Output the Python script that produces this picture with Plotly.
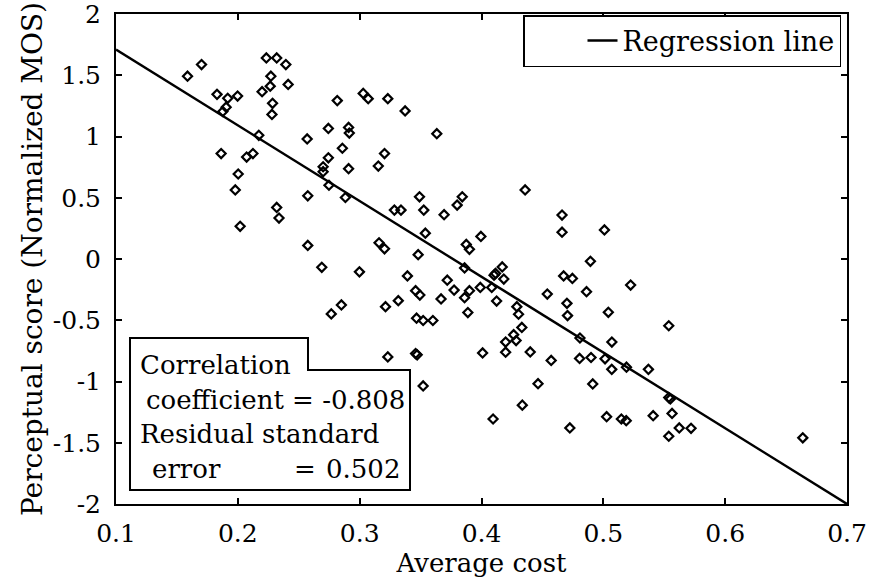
import plotly.graph_objects as go

# ---- data ----
avg_cost = [
    0.1587, 0.1702, 0.1829, 0.1917, 0.1998, 0.1904, 0.1877, 0.2234, 0.2319, 0.2394,
    0.2271, 0.2266, 0.2199, 0.2413, 0.2285, 0.2280, 0.2172, 0.1863, 0.2072, 0.2124,
    0.2003, 0.2816, 0.2743, 0.2909, 0.2915, 0.2569, 0.2858, 0.2743, 0.2700, 0.2700,
    0.2909, 0.3029, 0.3070, 0.3231, 0.3373, 0.3633, 0.3204, 0.3153, 0.1979, 0.2319,
    0.2338, 0.2019, 0.2574, 0.2748, 0.2883, 0.2574, 0.2689, 0.2850, 0.2767, 0.4358,
    0.3491, 0.3842, 0.3800, 0.3285, 0.3339, 0.3526, 0.3693, 0.3539, 0.3159, 0.3204,
    0.3480, 0.3995, 0.3875, 0.3901, 0.2998, 0.3861, 0.4170, 0.4103, 0.4115, 0.4183,
    0.3392, 0.3719, 0.3990, 0.4084, 0.3775, 0.3901, 0.3861, 0.3459, 0.3494, 0.3668,
    0.4124, 0.3317, 0.3212, 0.3888, 0.4290, 0.4304, 0.3467, 0.3521, 0.3601, 0.4331,
    0.4264, 0.4661, 0.4661, 0.5009, 0.4894, 0.4674, 0.4746, 0.4540, 0.4862, 0.5224,
    0.4701, 0.4706, 0.5041, 0.5537, 0.4808, 0.4198, 0.4284, 0.4198, 0.4400, 0.4572,
    0.4009, 0.3231, 0.3459, 0.3472, 0.3521, 0.4464, 0.4335, 0.4095, 0.5070, 0.4805,
    0.4899, 0.5014, 0.5069, 0.5190, 0.5370, 0.4913, 0.5537, 0.5550, 0.5027, 0.5148,
    0.5188, 0.5409, 0.5564, 0.4725, 0.5623, 0.5720, 0.5537, 0.6637,
]
perceptual_score = [
    1.492, 1.587, 1.344, 1.312, 1.330, 1.239, 1.204, 1.641, 1.641, 1.587,
    1.492, 1.411, 1.366, 1.425, 1.271, 1.180, 1.010, 0.861, 0.832, 0.861,
    0.694, 1.293, 1.066, 1.074, 1.028, 0.980, 0.904, 0.826, 0.753, 0.713,
    0.737, 1.352, 1.309, 1.309, 1.209, 1.023, 0.861, 0.759, 0.564, 0.421,
    0.334, 0.267, 0.516, 0.602, 0.502, 0.111, -0.068, -0.375, -0.448, 0.564,
    0.508, 0.508, 0.440, 0.399, 0.399, 0.399, 0.362, 0.211, 0.132, 0.083,
    0.035, 0.184, 0.119, 0.079, -0.105, -0.073, -0.065, -0.132, -0.118, -0.164,
    -0.138, -0.173, -0.232, -0.232, -0.254, -0.259, -0.316, -0.259, -0.294, -0.326,
    -0.343, -0.340, -0.389, -0.437, -0.389, -0.451, -0.483, -0.502, -0.502, -0.559,
    -0.618, 0.359, 0.219, 0.237, -0.019, -0.138, -0.159, -0.286, -0.267, -0.213,
    -0.362, -0.462, -0.435, -0.545, -0.645, -0.678, -0.666, -0.761, -0.759, -0.828,
    -0.767, -0.799, -0.772, -0.782, -1.036, -1.018, -1.193, -1.306, -0.678, -0.812,
    -0.804, -0.815, -0.901, -0.883, -0.901, -1.020, -1.131, -1.142, -1.287, -1.306,
    -1.320, -1.279, -1.261, -1.379, -1.379, -1.382, -1.447, -1.460,
]
regression_x = [0.10, 0.70]
regression_y = [1.71, -2.0]

x_tick_vals = [0.1, 0.2, 0.3, 0.4, 0.5, 0.6, 0.7]
x_tick_text = ["0.1", "0.2", "0.3", "0.4", "0.5", "0.6", "0.7"]
y_tick_vals = [2, 1.5, 1, 0.5, 0, -0.5, -1, -1.5, -2]
y_tick_text = ["2", "1.5", "1", "0.5", "0", "-0.5", "-1", "-1.5", "-2"]

correlation_coefficient = "-0.808"
residual_std_error = "0.502"

FONT = "DejaVu Serif"
FS = 26

fig = go.Figure()
fig.add_trace(go.Scatter(
    x=avg_cost, y=perceptual_score, mode="markers", showlegend=False,
    marker=dict(symbol="diamond-open", size=7, color="black", line=dict(width=2.2, color="black")),
))
fig.add_trace(go.Scatter(
    x=regression_x, y=regression_y, mode="lines", name="Regression line",
    line=dict(color="black", width=2.4),
))

L, R, T, B = 116, 22, 14, 78
W, H = 869, 582
PW, PH = W - L - R, H - T - B

def px(xp):
    return (xp - L) / PW

def py(yp):
    return (H - B - yp) / PH

# L-shaped text box outline
pts = [(130, 338), (308, 338), (308, 370), (410, 370), (410, 490), (130, 490)]
path = "M " + " L ".join(f"{px(a):.5f},{py(b):.5f}" for a, b in pts) + " Z"
fig.add_shape(type="path", path=path, xref="paper", yref="paper",
              line=dict(color="black", width=2), fillcolor="white", layer="above")

def ann(text, x, y, anchor="left"):
    fig.add_annotation(text=text, x=px(x), y=py(y), xref="paper", yref="paper",
                       xanchor=anchor, yanchor="middle", showarrow=False,
                       font=dict(family=FONT, size=FS, color="black"))

ann("Correlation", 138, 365)
ann("coefficient = " + correlation_coefficient, 407, 400, "right")
ann("Residual standard", 138, 434)
ann("error", 150, 469)
ann("=", 305, 469, "center")
ann(residual_std_error, 402, 469, "right")

axis_common = dict(
    showline=True, linecolor="black", linewidth=2, mirror="ticks",
    ticks="inside", ticklen=6, tickwidth=1.5, tickcolor="black",
    showgrid=False, zeroline=False, ticklabeloverflow="allow",
    tickfont=dict(family=FONT, size=25, color="black"),
)

fig.update_xaxes(range=[0.1, 0.7], tickvals=x_tick_vals, ticktext=x_tick_text,
                 title=dict(text="Average cost", font=dict(family=FONT, size=FS, color="black"), standoff=4),
                 ticklabelstandoff=6, **axis_common)
fig.update_yaxes(range=[-2, 2], tickvals=y_tick_vals, ticktext=y_tick_text,
                 title=dict(text="Perceptual score (Normalized MOS)", font=dict(family=FONT, size=28, color="black"), standoff=2),
                 ticklabelstandoff=8, **axis_common)

fig.update_layout(
    width=W, height=H,
    margin=dict(l=L, r=R, t=T, b=B, autoexpand=False),
    paper_bgcolor="white", plot_bgcolor="white",
    font=dict(family=FONT, size=FS, color="black"),
    legend=dict(x=px(841), y=py(15), xanchor="right", yanchor="top",
                bgcolor="white", bordercolor="black", borderwidth=1.5,
                font=dict(family=FONT, size=27, color="black"),
                indentation=58),
)

fig.write_html("out.html")
